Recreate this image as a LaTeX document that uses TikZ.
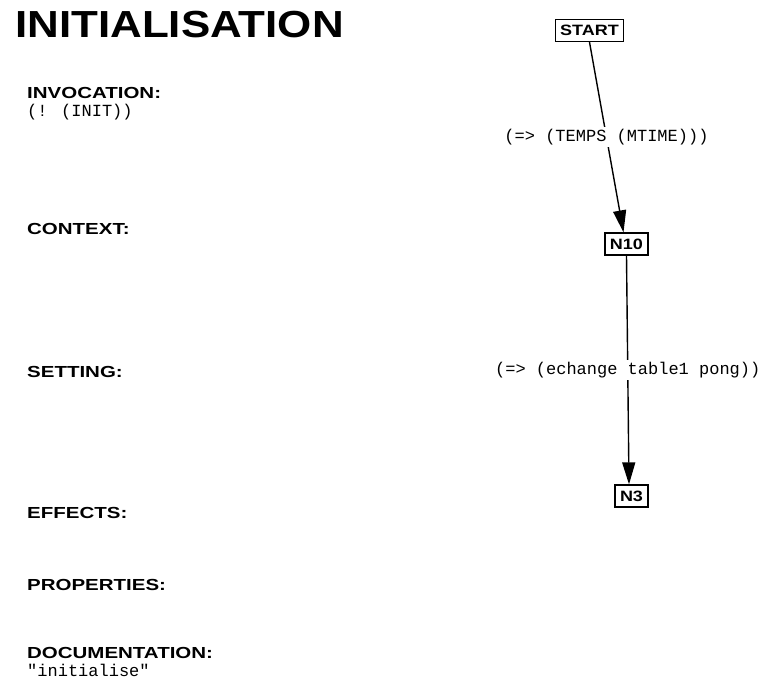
\documentclass[tikz,border=0pt]{standalone}
\usepackage{graphicx}
\usepackage{fontspec}
\setmainfont{Liberation Sans}
\newfontfamily\codefont{Liberation Mono}
\usetikzlibrary{arrows.meta}
% wide bold lettering used for the titles and state names
\newcommand{\widetext}[2]{\scalebox{#1}[1]{#2}}

\begin{document}
\begin{tikzpicture}[x=1pt,y=-1pt,
  title/.style={anchor=base west, inner sep=0pt, font=\bfseries\fontsize{37.7}{40}\selectfont},
  heading/.style={anchor=base west, inner sep=0pt, font=\bfseries\fontsize{16}{18}\selectfont},
  code/.style={anchor=base west, inner sep=0pt, font=\codefont\fontsize{17}{19}\selectfont},
  state/.style={draw, line width=1.3pt, inner xsep=5pt, inner ysep=0pt, minimum height=22pt,
                font=\bfseries\fontsize{15}{17}\selectfont},
  trans/.style={-{Triangle[length=22pt,width=13pt]}, line width=1.4pt},
  guard/.style={fill=white, inner xsep=1pt, inner ysep=2pt, font=\codefont\fontsize{17}{19}\selectfont}]

\useasboundingbox (0,0) rectangle (761,685);

% left column: procedure description
\node[title] (ttl) at (15,38) {\widetext{1.165}{INITIALISATION}};

\node[heading] (hinv) at (27,99)  {\widetext{1.28}{INVOCATION:}};
\node[code]    (cinv) at (27,117) {(! (INIT))};
\node[heading] (hctx) at (27,234) {\widetext{1.28}{CONTEXT:}};
\node[heading] (hset) at (27,377) {\widetext{1.28}{SETTING:}};
\node[heading] (heff) at (27,518) {\widetext{1.28}{EFFECTS:}};
\node[heading] (hprp) at (27,590) {\widetext{1.28}{PROPERTIES:}};
\node[heading] (hdoc) at (27,658) {\widetext{1.28}{DOCUMENTATION:}};
\node[code]    (cdoc) at (27,676) {"initialise"};

% right column: state graph
\node[state] (start) at (589.5,30.5) {\widetext{1.2}{START}};
\node[state] (n10)   at (626.5,244)  {\widetext{1.2}{N10}};
\node[state] (n3)    at (631.5,496)  {\widetext{1.2}{N3}};

\draw[trans] (start.south) -- node[guard] {(=> (TEMPS (MTIME)))} ([xshift=-3pt]n10.north);
\draw[trans] (n10.south) -- node[guard] {(=> (echange table1 pong))} ([xshift=-2.5pt]n3.north);
\end{tikzpicture}
\end{document}
